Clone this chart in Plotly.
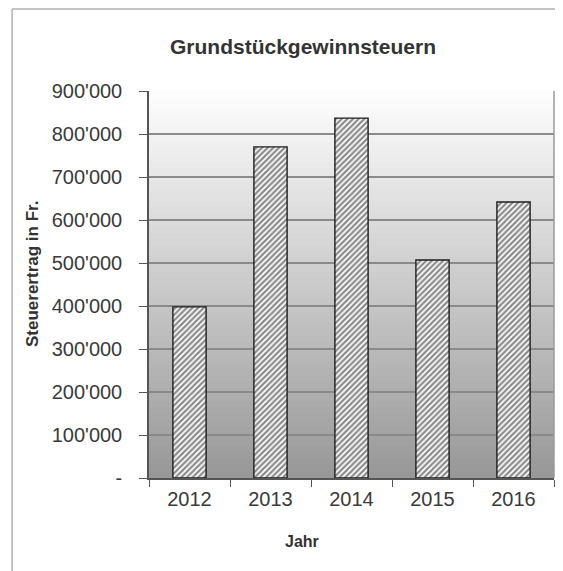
import plotly.graph_objects as go

years = ["2012", "2013", "2014", "2015", "2016"]
revenue = [398000, 770000, 837000, 507000, 642000]
tick_values = [0, 100000, 200000, 300000, 400000, 500000, 600000, 700000, 800000, 900000]
tick_labels = ["-", "100'000", "200'000", "300'000", "400'000", "500'000",
               "600'000", "700'000", "800'000", "900'000"]

fig = go.Figure()
fig.add_trace(go.Bar(
    x=years, y=revenue,
    marker=dict(
        color="#ffffff",
        line=dict(color="#1e1e1e", width=1.4),
        pattern=dict(shape="/", fgcolor="#161616", bgcolor="#ffffff", size=4, solidity=0.55),
    ),
    width=0.41,
    showlegend=False,
))

# vertical gradient background of the plot area
shapes = []
n = 60
top_c, bot_c = 253, 152
for i in range(n):
    t = i / (n - 1)
    c = int(round(bot_c + (top_c - bot_c) * t))
    shapes.append(dict(type="rect", xref="x domain", yref="y domain",
                       x0=0, x1=1, y0=i / n, y1=(i + 1) / n + 0.002,
                       fillcolor=f"rgb({c},{c},{c})", line=dict(width=0), layer="below"))
# outer chart frame (top and left)
shapes.append(dict(type="line", xref="paper", yref="paper", x0=-0.338, x1=1.1, y0=1.212, y1=1.212,
                   line=dict(color="#b0b0b0", width=1.5)))
shapes.append(dict(type="line", xref="paper", yref="paper", x0=-0.338, x1=-0.338, y0=1.212, y1=-0.3,
                   line=dict(color="#b0b0b0", width=1.5)))
# right border of plot area
shapes.append(dict(type="line", xref="x domain", yref="y domain", x0=1, x1=1, y0=0, y1=1,
                   line=dict(color="#9a9a9a", width=1.5)))

font_family = "Liberation Sans, Arial, sans-serif"
annotations = [
    dict(text="<b>Grundstückgewinnsteuern</b>", xref="paper", yref="paper", x=0.380, y=1.1137,
         xanchor="center", yanchor="middle", showarrow=False,
         font=dict(size=21, color="#333333", family=font_family)),
    dict(text="<b>Jahr</b>", xref="paper", yref="paper", x=0.378, y=-0.1628,
         xanchor="center", yanchor="middle", showarrow=False,
         font=dict(size=16, color="#333333", family=font_family)),
    dict(text="<b>Steuerertrag in Fr.</b>", xref="paper", yref="paper", x=-0.289, y=0.527,
         xanchor="center", yanchor="middle", showarrow=False, textangle=-90,
         font=dict(size=17, color="#333333", family=font_family)),
]

fig.update_layout(
    width=555, height=563,
    margin=dict(l=141, r=9, t=83, b=93, autoexpand=False),
    paper_bgcolor="white",
    plot_bgcolor="rgba(0,0,0,0)",
    font=dict(family=font_family, color="#333333"),
    shapes=shapes,
    annotations=annotations,
    bargap=0.59,
)
fig.update_yaxes(
    range=[0, 900000], tickvals=tick_values, ticktext=tick_labels,
    tickfont=dict(size=20, color="#3a3a3a"),
    showgrid=True, gridcolor="#8a8a8a", gridwidth=1.5,
    ticks="outside", ticklen=8, tickcolor="#555555",
    ticklabelstandoff=13,
    showline=True, linecolor="#555555", linewidth=1.5,
    zeroline=False,
)
fig.update_xaxes(
    tickfont=dict(size=20, color="#3a3a3a"),
    ticks="outside", ticklen=7, tickcolor="#555555", tickson="boundaries",
    ticklabelstandoff=2,
    showline=True, linecolor="#555555", linewidth=1.5,
    showgrid=False,
)

fig.write_html("out.html")
